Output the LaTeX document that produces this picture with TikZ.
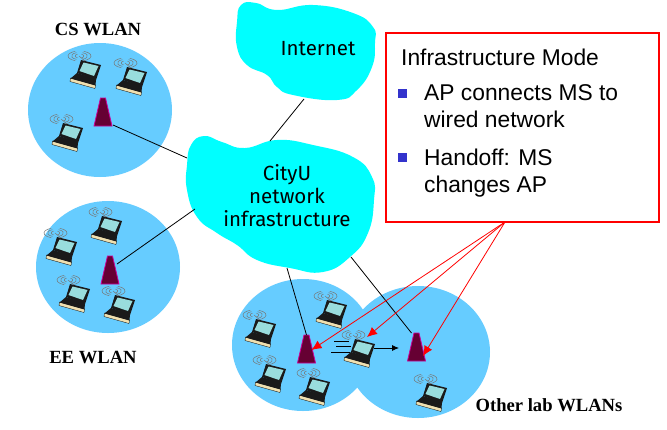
\documentclass[tikz,border=0pt]{standalone}
\usepackage{fontspec}
\setmainfont{Liberation Sans}
\newfontfamily\labelfont{Liberation Serif}
\newfontfamily\cloudfont{Fira Sans}
\usetikzlibrary{arrows.meta}
\definecolor{cellblue}{HTML}{66CCFF}
\definecolor{cloudcyan}{HTML}{00FFFF}
\definecolor{apfill}{HTML}{660033}
\definecolor{apedge}{HTML}{CC0099}
\definecolor{kbd}{HTML}{1A1A1A}
\definecolor{scr}{HTML}{99DDDD}
\definecolor{lip}{HTML}{F0E0B0}
\definecolor{wave}{HTML}{777777}
\definecolor{bulletblue}{HTML}{3333CC}
\tikzset{
  cell/.style={fill=cellblue,draw=none},
  cloudshape/.style={fill=cloudcyan,draw=none},
  cloudtext/.style={font=\cloudfont\fontsize{20.5}{23}\selectfont,align=center,text=black},
  wlanlabel/.style={font=\labelfont\bfseries\fontsize{18.6}{20}\selectfont,text=black},
  link/.style={draw=black,line width=0.8pt},
  callout/.style={draw=red,-{Latex[length=10pt,width=9pt]},line width=0.8pt},
  apbox/.style={minimum width=18pt,minimum height=28pt,inner sep=0pt,outer sep=0pt},
  bodytext/.style={font=\fontsize{22.8}{27}\selectfont,anchor=north west,align=left,inner sep=0pt},
  bulletmark/.style={fill=bulletblue,minimum size=9pt,inner sep=0pt},
  laptop/.pic={
    \fill[lip,draw=black,line width=0.3pt] (-15.5,8)--(9.5,15)--(9,18.5)--(-16,11.5)--cycle;
    \fill[kbd] (-9,3)--(10,9)--(9.5,15.5)--(-15.5,8.5)--cycle;
    \fill[kbd] (-5,-10)--(15,-5)--(10,10)--(-9,3)--cycle;
    \fill[scr] (-2.5,-7.5)--(12.5,-4)--(8,6)--(-6.5,1)--cycle;
    \draw[wave,line width=0.5pt] (-7,-14) -- (-1,-9);
    \foreach \r/\s in {4/2,7.5/3.5,11/5}{
      \draw[wave,line width=0.5pt] (-7,-14) ++(110:\r pt and \s pt) arc[start angle=110,end angle=250,x radius=\r pt,y radius=\s pt];
      \draw[wave,line width=0.5pt] (-6,-14) ++(-70:\r pt and \s pt) arc[start angle=-70,end angle=70,x radius=\r pt,y radius=\s pt];
    }
  }
}
\newcommand{\accesspoint}[3]{%
  \node[apbox] (#1) at (#2,#3) {};
  \fill[apfill,draw=apedge,line width=0.8pt] (#1.south west)--(#1.south east)--([xshift=2.5pt]#1.north)--([xshift=-2.5pt]#1.north)--cycle;
}
\begin{document}
\begin{tikzpicture}[x=1pt,y=-1pt]
\useasboundingbox (0,0) rectangle (667,429);
\fill[white] (0,0) rectangle (667,429);
% WLAN cells
\fill[cell] (100,110) ellipse [x radius=72,y radius=67];
\fill[cell] (108,267) ellipse [x radius=72,y radius=66];
\fill[cell] (303,345) ellipse [x radius=71,y radius=66];
\fill[cell] (418,352) ellipse [x radius=72,y radius=66];
% Clouds
\path[cloudshape] plot[smooth cycle,tension=0.8] coordinates {(237,22)(241,5)(256,3)(277,10)(313,5)(353,13)(373,27)(375,43)(372,67)(357,90)(337,100)(293,95)(277,87)(267,75)(247,65)(237,47)};
\path[cloudshape] plot[smooth cycle,tension=0.8] coordinates {(187,165)(191,145)(204,136)(222,142)(245,148)(277,140)(313,145)(353,157)(372,177)(374,200)(368,233)(350,257)(323,272)(290,268)(257,260)(237,245)(217,233)(197,217)(187,190)};
\node[cloudtext] (internet) at (318,49) {Internet};
\node[cloudtext] (cityu) at (287,196) {CityU\\network\\infrastructure};
% Access points
\accesspoint{apcs}{103}{112}
\accesspoint{apee}{110}{270}
\accesspoint{aplabl}{306.5}{349}
\accesspoint{aplabr}{416.5}{347}
% Free connector ends on the cloud borders
\coordinate (inetbottom) at (304,99);
\coordinate (cityutop) at (270,141);
\coordinate (cityuleft) at (187,158);
\coordinate (cityulower) at (195,209);
\coordinate (cityubottoml) at (287,268);
\coordinate (cityubottomr) at (351,257);
\coordinate (calloutsrc) at (505,222);
\coordinate (moveA) at (374,348);
\coordinate (moveB) at (399,348);
% Connectors
\draw[link] (inetbottom) -- (cityutop);
\draw[link] (apcs.south east) ++(1,-1) -- (cityuleft);
\draw[link] (apee.north east) ++(-2,8) -- (cityulower);
\draw[link] (cityubottoml) -- (aplabl.north);
\draw[link] (cityubottomr) -- ([xshift=-5pt]aplabr.north);
% Laptops
\foreach \x/\y in {86/70,132/77,68/133,107/226,62/247,75/294,120/305,332/310,261/329,271/374,315/387,360/349,432/393}
  \pic at (\x,\y) {laptop};
% Handoff motion
\draw[black,line width=0.8pt] (334,341)--(349,341) (336,346)--(351,346) (331,352)--(350,352);
\draw[black,line width=0.8pt,-{Latex[length=7pt,width=6pt]}] (moveA) -- (moveB);
% Infrastructure Mode box
\node[draw=red,line width=2pt,fill=white,minimum width=273pt,minimum height=189pt,anchor=north west,inner sep=0pt] (modebox) at (384.5,31.5) {};
\node[bodytext] (title) at (401,49) {Infrastructure Mode};
\node[bulletmark] (b1) at (402,93) {};
\node[bodytext] (t1) at (424,84) {AP connects MS to\\wired network};
\node[bulletmark] (b2) at (402,157) {};
\node[bodytext] (t2) at (424,149) {Handoff: MS\\changes AP};
% Callouts
\draw[callout] (calloutsrc) -- ([xshift=5pt,yshift=-1pt]aplabl.center);
\draw[callout] (calloutsrc) -- (367,337);
\draw[callout] (calloutsrc) -- ([xshift=6.5pt,yshift=-9pt]aplabr.center);
% Labels
\node[wlanlabel] (cslabel) at (98,29) {CS WLAN};
\node[wlanlabel] (eelabel) at (93,357) {EE WLAN};
\node[wlanlabel] (otherlabel) at (549,405) {Other lab WLANs};
\end{tikzpicture}
\end{document}
